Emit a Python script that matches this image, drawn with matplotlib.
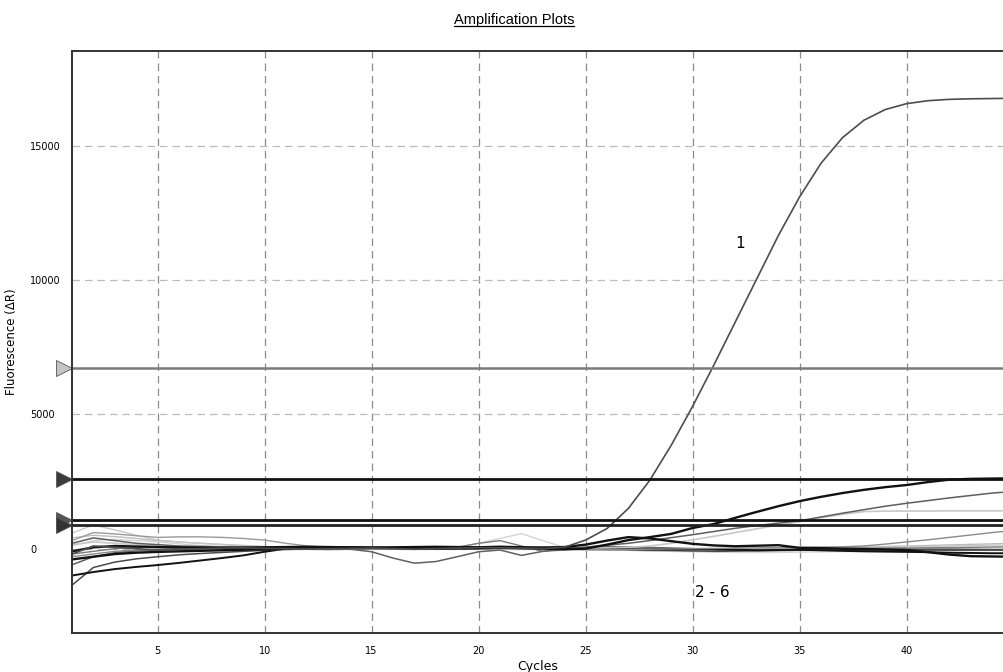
import matplotlib
matplotlib.use("Agg")
import matplotlib.pyplot as plt
from matplotlib.lines import Line2D
import matplotlib.transforms as mtransforms

# cycle numbers and fluorescence (delta R)
cycles = list(range(1, 46))

# sample 1 - the amplified one
sample_1 = [-200, 100, 50, 0, -50, -20, 0, 20, 30, 10, 0, -10, 0, 10, 20, 0, -20, 0, 20, 40, 30, 20, 0, 50,
            320, 750, 1500, 2550, 3850, 5300, 6850, 8450, 10050, 11650, 13100, 14350, 15300, 15950, 16350,
            16570, 16680, 16730, 16750, 16760, 16770]

# samples 2 - 6 and the background wells
curve_a = [-400, -300, -200, -150, -120, -100, -80, -60, -40, -20, 0, 20, 30, 40, 30, 20, 10, 0, 10, 20, 30, 20, 0, -20,
           0, 150, 320, 430, 550, 770, 920, 1150, 1370, 1580, 1770, 1930, 2070, 2190, 2290, 2370, 2480, 2570, 2600, 2610, 2620]
curve_c = [200, 400, 300, 200, 150, 100, 80, 60, 40, 20, 0, -20, -30, -20, 0, 20, 10, 0, -10, 0, 20, 10, 0, 0,
           60, 130, 200, 300, 410, 520, 640, 760, 860, 950, 1040, 1180, 1320, 1450, 1580, 1690, 1790, 1890, 1980, 2070, 2130]
curve_d = [150, 250, 200, 150, 100, 60, 40, 20, 0, -20, -30, -20, -10, 0, 10, 0, -10, 0, 10, 20, 10, 0, -10, 0,
           20, 30, 50, 100, 200, 330, 460, 600, 740, 880, 1000, 1150, 1280, 1380, 1400, 1400, 1400, 1410, 1410, 1410, 1410]
curve_e = [-300, -200, -100, -50, -20, 0, 10, 20, 10, 0, -10, -20, -10, 0, 10, 20, 10, 0, -10, 0, 10, 0, -10, -20,
           -30, -40, -30, -20, -10, 0, 10, 20, 30, 40, 50, 60, 70, 100, 170, 250, 330, 420, 510, 600, 680]
curve_f = [-100, 50, 100, 80, 60, 50, 40, 30, 40, 50, 60, 70, 60, 50, 40, 50, 60, 70, 60, 50, 40, 30, 40, 60,
           150, 300, 430, 380, 280, 180, 120, 90, 110, 130, 30, 20, 0, -10, -30, -50, -130, -220, -280, -290, -300]
noise_1 = [-1000, -870, -760, -680, -610, -530, -440, -350, -250, -115, 0, 50, 60, 50, 40, 30, 30, 40, 50, 60, 80, 60,
           40, 30, 20, 0, -20, -30, -20, -10, -20, -40, -60, -50, -40, -60, -80, -100, -110, -120, -130, -150, -160, -170, -170]
noise_2 = [-1360, -700, -500, -380, -300, -230, -180, -140, -100, -60, -30, -10, 0, 10, 20, 10, 0, -10, 0, 10, 20, 30,
           20, 10, 0, -10, -20, -40, -60, -80, -100, -90, -80, -70, -60, -60, -60, -60, -50, -40, -40, -40, -40, -40, -40]
noise_3 = [580, 880, 700, 500, 320, 250, 200, 150, 100, 50, 0, -20, -20, -10, 0, 20, 30, 20, 10, 0, -20, -30, -10, 0,
           20, 40, 60, 50, 30, 10, 0, -30, -50, -60, -40, -20, 0, 20, 40, 60, 80, 100, 120, 130, 140]
noise_4 = [300, 600, 550, 480, 420, 440, 440, 420, 380, 320, 200, 100, 50, 20, 0, -20, -30, -20, 0, 20, 30, 20, 0, -20,
           -40, -50, -60, -70, -80, -90, -80, -60, -40, -20, -10, 0, 10, 20, 20, 20, 10, 0, -10, -20, -30]
noise_5 = [-600, -300, -150, -80, -50, -30, -20, -10, 0, 0, 0, 0, 0, -20, -115, -350, -540, -480, -300, -115, -50, -250,
           -100, 0, 40, 80, 60, 40, 20, 0, -20, -40, -60, -60, -50, -40, -30, -30, -40, -50, -50, -60, -60, -60, -60]
noise_6 = [100, 300, 350, 300, 250, 180, 120, 80, 50, 30, 20, 10, 0, 0, 0, 0, 10, 20, 60, 200, 380, 560, 300, 50,
           0, -30, -60, -80, -100, -120, -130, -140, -140, -140, -130, -120, -110, -100, -90, -80, -70, -60, -60, -60, -60]
noise_7 = [-200, -100, 0, 50, 60, 70, 80, 70, 60, 40, 20, 0, -10, -10, 0, 10, 0, -10, 50, 200, 300, 100, -100, -50,
           0, 30, 50, 30, 0, -20, -40, -50, -50, -40, -30, -20, -10, 0, 10, 20, 30, 40, 50, 60, 70]
noise_8 = [400, 500, 450, 380, 300, 250, 200, 160, 120, 80, 40, 20, 0, -10, -20, -20, -10, 0, 10, 20, 10, 0, -10, -20,
           -30, -40, -40, -40, -30, -20, -10, 0, 0, 0, 0, 20, 40, 60, 80, 100, 120, 140, 160, 180, 200]

# threshold lines (one per detector)
thresholds = [6721, 2590, 1064, 878]
threshold_colors = ["#7a7a7a", "#111111", "#111111", "#222222"]
marker_colors = ["#c4c4c4", "#3a3a3a", "#555555", "#333333"]

x_ticks = [5, 10, 15, 20, 25, 30, 35, 40]
y_ticks = [0, 5000, 10000, 15000]

fig = plt.figure(figsize=(10.04, 6.72), dpi=100)
ax = fig.add_axes([72 / 1004, 1 - 633 / 672, 1 - 72 / 1004, (633 - 51) / 672])

# background wells first so the dark curves sit on top
for vals, col, lw in [(noise_6, "#d4d4d4", 1.0), (noise_8, "#bdbdbd", 1.0), (noise_3, "#c8c8c8", 1.0),
                      (noise_4, "#9a9a9a", 1.0), (noise_7, "#7a7a7a", 1.0), (noise_5, "#606060", 1.1),
                      (noise_2, "#4a4a4a", 1.1), (noise_1, "#111111", 1.4), (curve_d, "#c8c8c8", 1.2),
                      (curve_e, "#8a8a8a", 1.0), (curve_c, "#5e5e5e", 1.1), (curve_f, "#111111", 1.7),
                      (curve_a, "#111111", 1.7), (sample_1, "#4d4d4d", 1.2)]:
    ax.plot(cycles, vals, color=col, lw=lw)

trans = mtransforms.blended_transform_factory(ax.transAxes, ax.transData)
for t, col, mcol in zip(thresholds, threshold_colors, marker_colors):
    ax.axhline(t, color=col, lw=2.0 if col != "#7a7a7a" else 1.8)
    ax.plot([-0.0085], [t], marker=">", markersize=11, color=mcol, markeredgecolor="#555555",
            markeredgewidth=0.6, transform=trans, clip_on=False)

ax.set_xlim(1, 44.55)
ax.set_ylim(-3140, 18530)
ax.set_xticks(x_ticks)
ax.set_yticks(y_ticks)
ax.grid(axis="x", color="#8c8c8c", linestyle=(0, (6, 4)), lw=0.9)
ax.grid(axis="y", color="#bcbcbc", linestyle=(0, (6, 4)), lw=0.9)
ax.set_axisbelow(True)
ax.tick_params(axis="both", length=0, labelsize=7)
ax.tick_params(axis="x", pad=9)
ax.tick_params(axis="y", pad=30)
for lab in ax.get_yticklabels():
    lab.set_horizontalalignment("left")

for s in ["left", "top", "bottom"]:
    ax.spines[s].set_color("#333333")
    ax.spines[s].set_linewidth(1.4)
ax.spines["right"].set_visible(False)

ax.set_xlabel("Cycles", fontsize=9, labelpad=3)
ax.set_ylabel("Fluorescence (\u0394R)", fontsize=8.5, labelpad=6)
ax.yaxis.set_label_coords(-54 / 932, 0.5)

ax.text(32.2, 11373, "1", fontsize=11, ha="center", va="center")
ax.text(30.9, -1615, "2 - 6", fontsize=11, ha="center", va="center")

title = fig.text(514 / 1004, 1 - 20 / 672, "Amplification Plots", fontsize=10.5,
                 family="Liberation Sans", ha="center", va="center")
fig.canvas.draw()
bb = title.get_window_extent().transformed(fig.transFigure.inverted())
fig.add_artist(Line2D([bb.x0, bb.x1], [bb.y0 + 0.002, bb.y0 + 0.002], color="black", lw=0.9))

fig.savefig("out.png", dpi=100)
